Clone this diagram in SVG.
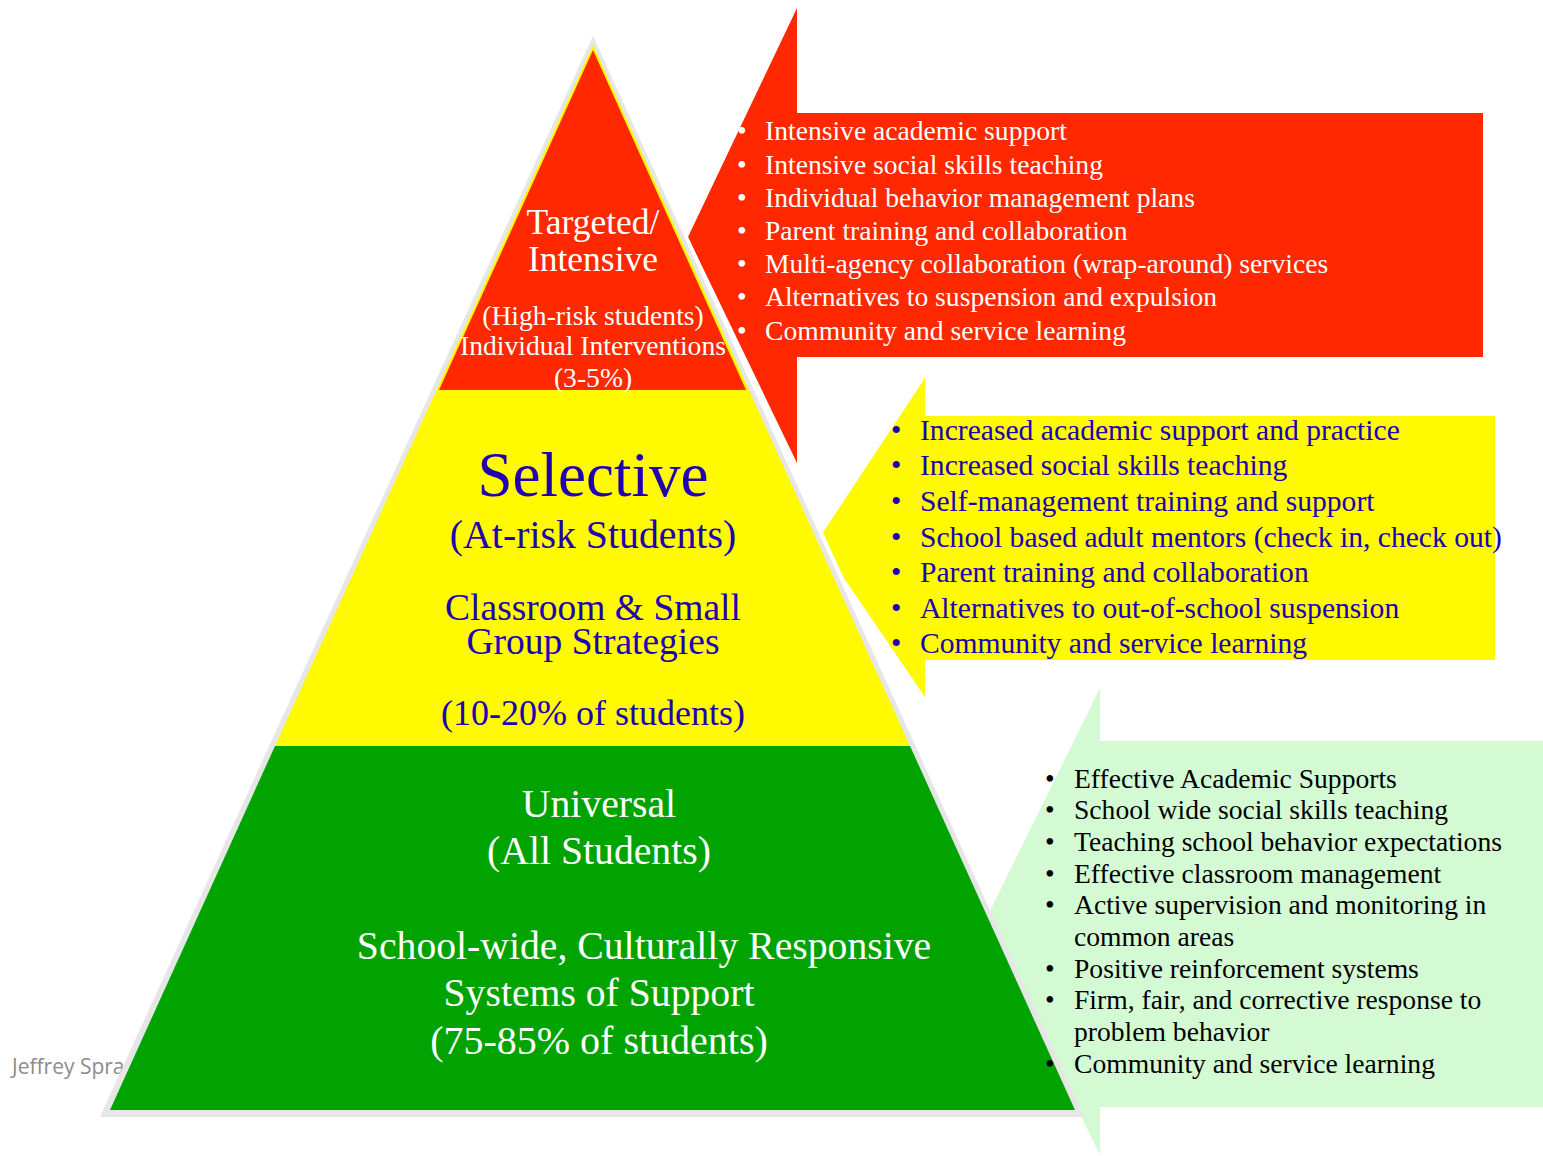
<svg xmlns="http://www.w3.org/2000/svg" width="1543" height="1156" viewBox="0 0 1543 1156">
<style>
.t{font-family:"Liberation Serif","Times New Roman",serif;}
.w{fill:#ffffff;}
.b{fill:#2000b0;}
.k{fill:#000000;}
.c{text-anchor:middle;}
.sh{fill:#e6e6e6;}
</style>
<rect width="1543" height="1156" fill="#ffffff"/>
<g id="callout-red">
<polygon points="797,8 797,113 1483,113 1483,357 797,357 797,463 688,237" fill="#ff2800"/>
</g>
<g id="callout-yellow">
<polygon points="925,378 925,416 1495,416 1495,660 925,660 925,697 818,540" fill="#fffa00"/>
</g>
<polygon class="sh" points="593,36 99,1118 1087,1118" stroke="#ffffff" stroke-width="6"/>
<g id="callout-green">
<polygon points="1100,688 1100,741 1543,741 1543,1107 1100,1107 1100,1155 985,921" fill="#d4fad4"/>
</g>
<text x="12" y="1074" font-family="'Open Sans','Liberation Sans',sans-serif" font-size="21" fill="#8c8c8c">Jeffrey Spra</text>
<g id="pyramid">
<polygon class="sh" points="593,36 100,1117 1084,1117"/>
<polygon points="593,45 275,746 910,746" fill="#fffa00"/>
<polygon points="593,50 439,390 746,390" fill="#ff2800"/>
<polygon points="275,746 910,746 1075,1110 110,1110" fill="#00a300"/>
</g>
<g id="callout-red-text" class="t w" font-size="27.6">
<text x="737" y="140">•</text><text x="765" y="140">Intensive academic support</text>
<text x="737" y="174">•</text><text x="765" y="174">Intensive social skills teaching</text>
<text x="737" y="207">•</text><text x="765" y="207">Individual behavior management plans</text>
<text x="737" y="240">•</text><text x="765" y="240">Parent training and collaboration</text>
<text x="737" y="273">•</text><text x="765" y="273">Multi-agency collaboration (wrap-around) services</text>
<text x="737" y="306">•</text><text x="765" y="306">Alternatives to suspension and expulsion</text>
<text x="737" y="340">•</text><text x="765" y="340">Community and service learning</text>
</g>
<g id="callout-yellow-text" class="t b" font-size="29.6">
<text x="891" y="440">•</text><text x="920" y="440">Increased academic support and practice</text>
<text x="891" y="475">•</text><text x="920" y="475">Increased social skills teaching</text>
<text x="891" y="511">•</text><text x="920" y="511">Self-management training and support</text>
<text x="891" y="547">•</text><text x="920" y="547">School based adult mentors (check in, check out)</text>
<text x="891" y="582">•</text><text x="920" y="582">Parent training and collaboration</text>
<text x="891" y="618">•</text><text x="920" y="618">Alternatives to out-of-school suspension</text>
<text x="891" y="653">•</text><text x="920" y="653">Community and service learning</text>
</g>
<g id="callout-green-text" class="t k" font-size="27.6">
<text x="1045" y="788">•</text><text x="1074" y="788">Effective Academic Supports</text>
<text x="1045" y="819">•</text><text x="1074" y="819">School wide social skills teaching</text>
<text x="1045" y="851">•</text><text x="1074" y="851">Teaching school behavior expectations</text>
<text x="1045" y="883">•</text><text x="1074" y="883">Effective classroom management</text>
<text x="1045" y="914">•</text><text x="1074" y="914">Active supervision and monitoring in</text>
<text x="1074" y="946">common areas</text>
<text x="1045" y="978">•</text><text x="1074" y="978">Positive reinforcement systems</text>
<text x="1045" y="1009">•</text><text x="1074" y="1009">Firm, fair, and corrective response to</text>
<text x="1074" y="1041">problem behavior</text>
<text x="1045" y="1073">•</text><text x="1074" y="1073">Community and service learning</text>
</g>
<g id="tier-red" class="t w c">
<text x="593" y="234" font-size="35.5">Targeted/</text>
<text x="593" y="271" font-size="35.5">Intensive</text>
<text x="593" y="325" font-size="27.6">(High-risk students)</text>
<text x="593" y="355" font-size="27.6">Individual Interventions</text>
<text x="593" y="387" font-size="27.6">(3-5%)</text>
</g>
<g id="tier-yellow" class="t b c">
<text x="593" y="496" font-size="63">Selective</text>
<text x="593" y="548" font-size="39.8">(At-risk Students)</text>
<text x="593" y="620" font-size="37.5">Classroom &amp; Small</text>
<text x="593" y="654" font-size="37.5">Group Strategies</text>
<text x="593" y="725" font-size="36">(10-20% of students)</text>
</g>
<g id="tier-green" class="t w c">
<text x="599" y="817" font-size="39.7">Universal</text>
<text x="599" y="864" font-size="39.7">(All Students)</text>
<text x="644" y="959" font-size="39.7">School-wide, Culturally Responsive</text>
<text x="599" y="1006" font-size="39.7">Systems of Support</text>
<text x="599" y="1054" font-size="40">(75-85% of students)</text>
</g>
</svg>
